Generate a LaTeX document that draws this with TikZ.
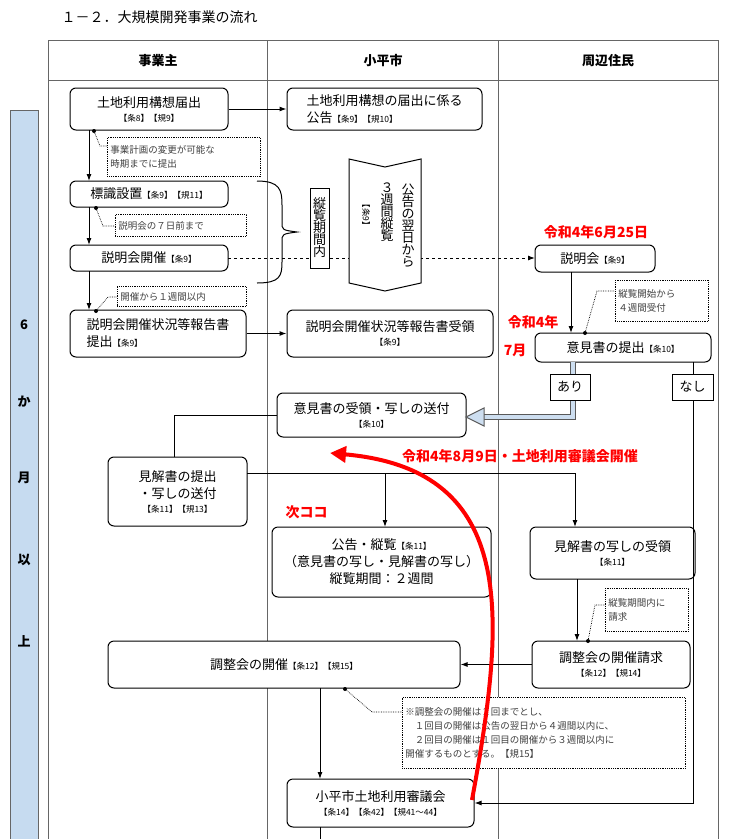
\documentclass[tikz,border=0pt]{standalone}
\usepackage{fontspec}
\setmainfont{Noto Sans CJK JP}
\usetikzlibrary{arrows.meta}
\definecolor{barblue}{RGB}{198,219,240}
\definecolor{arrblue}{RGB}{205,222,240}
\newcommand\sm{\fontsize{8.5}{10}\selectfont}
\newcommand\nm{\fontsize{13}{17}\selectfont}
\newcommand\ns{\fontsize{9.5}{14}\selectfont}
\begin{document}
\begin{tikzpicture}[x=1pt,y=-1pt,
 box/.style={draw, rounded corners=6, line width=1, fill=white, align=center, inner sep=2, font=\nm},
 note/.style={draw, densely dotted, line width=0.8, fill=white, align=left, inner sep=3, font=\ns, text=black!75},
 lead/.style={densely dotted, line width=0.7},
 dot/.style={circle, fill=black, inner sep=0, minimum size=4},
 arr/.style={-{Latex[length=7,width=5]}, line width=1},
 grid/.style={draw=black!60, line width=1},
 red/.style={text=red, font=\fontsize{14}{16}\selectfont\bfseries}]
\useasboundingbox (0,0) rectangle (730,839);
\fill[white] (0,0) rectangle (730,839);
\node[anchor=west, font=\fontsize{14}{16}\selectfont] (title) at (58,17) {１－２．大規模開発事業の流れ};
% table
\draw[grid] (48,839) -- (48,40) -- (718,40) -- (718,839);
\draw[grid] (48,80) -- (718,80);
\draw[grid] (267,40) -- (267,839);
\draw[grid] (498,40) -- (498,839);
\node[font=\nm\bfseries] (h1) at (158,61) {事業主};
\node[font=\nm\bfseries] (h2) at (383,61) {小平市};
\node[font=\nm\bfseries] (h3) at (608,61) {周辺住民};
% blue bar
\fill[fill=barblue, draw=black!60] (10,110) rectangle (38,845);
\foreach \t/\y [count=\i] in {6/325,か/402,月/478,以/560,上/641}
  \node[font=\nm\bfseries] (v\i) at (24,\y) {\t};
% dashed
\draw[dashed, line width=1, -{Latex[length=7,width=5]}] (228,258) -- (535,258);
% brace
\draw[line width=1] (257,181) .. controls (280,181) and (282,190) .. (282,205) -- (282,222) .. controls (282,230) .. (297,232) .. controls (282,234) .. (282,242) -- (282,262) .. controls (282,276) and (280,283) .. (257,283);
\node[draw, line width=1, fill=white, inner sep=3, font=\nm, align=center, minimum height=80] (kan) at (319.5,228) {縦\\[-5pt]覧\\[-5pt]期\\[-5pt]間\\[-5pt]内};
\draw[line width=1, fill=white] (349,159) -- (385,167) -- (421,159) -- (421,283) -- (385,291) -- (349,283) -- cycle;
\node[font=\nm, align=center] (c1) at (408,226) {公\\[-5pt]告\\[-5pt]の\\[-5pt]翌\\[-5pt]日\\[-5pt]か\\[-5pt]ら};
\node[font=\nm, align=center] (c2) at (387,212) {３\\[-5pt]週\\[-5pt]間\\[-5pt]縦\\[-5pt]覧};
\node[font=\sm, rotate=-90] (c3) at (366,215) {【条9】};
% nodes
\node[box, minimum width=158, minimum height=42] (A) at (149,109) {土地利用構想届出\\[-3pt]{\sm【条8】【規9】}};
\node[box, minimum width=195, minimum height=42, align=left] (B) at (384.5,109) {土地利用構想の届出に係る\\公告{\sm【条9】【規10】}};
\node[box, minimum width=158, minimum height=26] (C) at (149,194) {標識設置{\sm【条9】【規11】}};
\node[box, minimum width=158, minimum height=26] (D) at (149,258) {説明会開催{\sm【条9】}};
\node[box, minimum width=176, minimum height=47, align=left] (E) at (158,333.5) {説明会開催状況等報告書\\提出{\sm【条9】}};
\node[box, minimum width=206, minimum height=47] (F) at (390,333.5) {説明会開催状況等報告書受領\\[-3pt]{\sm【条9】}};
\node[box, minimum width=120, minimum height=27] (G) at (595,258.5) {説明会{\sm【条9】}};
\node[box, minimum width=176, minimum height=29] (H) at (623,347.5) {意見書の提出{\sm【条10】}};
\node[box, minimum width=189, minimum height=44] (J) at (371.5,415) {意見書の受領・写しの送付\\[-3pt]{\sm【条10】}};
\node[box, minimum width=139, minimum height=69] (K) at (177.5,491.5) {見解書の提出\\・写しの送付\\[-3pt]{\sm【条11】【規13】}};
\node[box, minimum width=219, minimum height=70] (L) at (381.5,562) {公告・縦覧{\sm【条11】}\\（意見書の写し・見解書の写し）\\縦覧期間：２週間};
\node[box, minimum width=165, minimum height=52] (M) at (612.5,553) {見解書の写しの受領\\[-3pt]{\sm【条11】}};
\node[box, minimum width=158, minimum height=47] (N) at (611,664.5) {調整会の開催請求\\[-3pt]{\sm【条12】【規14】}};
\node[box, minimum width=352, minimum height=47] (O) at (284,664.5) {調整会の開催{\sm【条12】【規15】}};
\node[box, minimum width=187, minimum height=48] (I) at (380.5,803) {小平市土地利用審議会\\[-3pt]{\sm【条14】【条42】【規41～44】}};
% notes
\node[note, text width=147, minimum height=39, anchor=north west] (n1) at (107,137) {事業計画の変更が可能な\\時期までに提出};
\node[note, text width=125, minimum height=22, anchor=north west] (n2) at (115,214) {説明会の７日前まで};
\node[note, text width=123, minimum height=20, anchor=north west] (n3) at (117,286) {開催から１週間以内};
\node[note, text width=87, minimum height=41, anchor=north west] (n4) at (615,280) {縦覧開始から\\４週間受付};
\node[note, text width=77, minimum height=43, anchor=north west] (n5) at (605,588) {縦覧期間内に\\請求};
\node[note, text width=277, minimum height=71, anchor=north west] (n6) at (402,697) {※調整会の開催は２回までとし、\\\quad １回目の開催は公告の翌日から４週間以内に、\\\quad ２回目の開催は１回目の開催から３週間以内に\\開催するものとする。【規15】};
% flow arrows
\draw[arr] (A) -- (B);
\draw[arr] (E) -- (F);
\draw[arr] (89,130) -- (89,181);
\draw[arr] (89,207) -- (89,245);
\draw[arr] (89,271) -- (89,310);
\draw[arr] (571,272) -- (571,333);
% leaders
\node[dot] (d1) at (94,131) {};
\draw[lead] (d1) -- (100,146) -- (n1.west|-0,146);
\node[dot] (d2) at (96,208) {};
\draw[lead] (d2) -- (103,226) -- (n2.west|-0,226);
\node[dot] (d3) at (96,311) {};
\draw[lead] (d3) -- (108,297) -- (n3.west|-0,297);
\node[dot] (d4) at (585,333) {};
\draw[lead] (d4) -- (597,291) -- (n4.west|-0,291);
\node[dot] (d5) at (588,641) {};
\draw[lead] (d5) -- (595,605) -- (n5.west|-0,605);
\node[dot] (d6) at (345,689) {};
\draw[lead] (d6) -- (372,712) -- (n6.west|-0,712);
% ari/nashi
\draw[line width=6, black!65] (573,362) -- (573,417) -- (482,417);
\draw[line width=4, arrblue] (573,362) -- (573,417) -- (482,417);
\draw[line width=1, fill=arrblue, draw=black!65] (466,417) -- (484,408) -- (484,426) -- cycle;
\node[draw, line width=1, fill=white, font=\nm, minimum width=40, minimum height=26] (ari) at (570,387) {あり};
\draw[line width=1] (693,362) -- (693,374);
\draw[arr] (693,400) -- (693,803) -- (I.east|-0,803);
\node[draw, line width=1, fill=white, font=\nm, minimum width=41, minimum height=26] (nashi) at (692.5,387) {なし};
% lower flow
\draw[line width=1] (J.west) -- (174,415) -- (174,457);
\draw[line width=1] (247,473) -- (575,473);
\draw[arr] (385,473) -- (385,527);
\draw[arr] (575,473) -- (575,527);
\draw[arr] (577,579) -- (577,641);
\draw[arr] (N) -- (O);
\draw[arr] (320,688) -- (320,779);
\draw[line width=1] (320,827) -- (320,839);
% red annotations
\node[red] (r1) at (596,232) {令和4年6月25日};
\node[red, anchor=east] (r2) at (562,322) {令和4年};
\node[red, anchor=east] (r3) at (530,350) {7月};
\node[red] (r4) at (520,456) {令和4年8月9日・土地利用審議会開催};
\node[red, anchor=west] (r5) at (282,512) {次ココ};
\draw[draw=red, line width=4, -{Triangle[length=16,width=16]}] (472,800) .. controls (505,620) and (520,470) .. (330,453);
\end{tikzpicture}
\end{document}
